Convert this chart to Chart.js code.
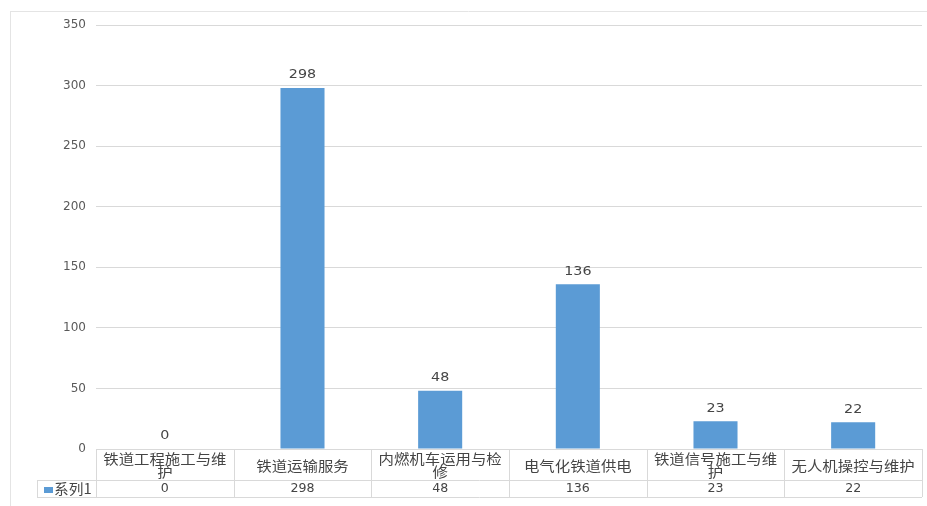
<!DOCTYPE html>
<html><head><meta charset="utf-8">
<script src="https://cdn.jsdelivr.net/npm/chart.js@4/dist/chart.umd.min.js"></script>
<style>html,body{margin:0;padding:0;background:#fff}#wrap{width:927px;height:506px;position:relative}</style>
</head><body><div id="wrap"><canvas id="c"></canvas></div>
<script>
const categories = ['铁道工程施工与维护','铁道运输服务','内燃机车运用与检修','电气化铁道供电','铁道信号施工与维护','无人机操控与维护'];
const headerLines = [['铁道工程施工与维','护'],['铁道运输服务'],['内燃机车运用与检','修'],['电气化铁道供电'],['铁道信号施工与维','护'],['无人机操控与维护']];
const seriesName = '系列1';
const values = [0, 298, 48, 136, 23, 22];
const yTicks = [0, 50, 100, 150, 200, 250, 300, 350];

const CJK = '"Noto Sans CJK SC", "Noto Sans", sans-serif';
const NUM = '"DejaVu Sans", sans-serif';
const TXT = '#454545';
const LINE = '#d9d9d9';
const BAR = '#5B9BD5';

function stretchText(ctx, s, x, y, sx) {
  ctx.save(); ctx.translate(x, y); ctx.scale(sx, 1); ctx.fillText(s, 0, 0); ctx.restore();
}

const tablePlugin = {
  id: 'tablePlugin',
  afterDraw(chart) {
    const ctx = chart.ctx, x = chart.scales.x, ca = chart.chartArea;
    const top = ca.bottom, mid = top + 31, bot = top + 48;
    const n = categories.length;
    const step = (ca.right - ca.left) / n;
    ctx.save();
    ctx.strokeStyle = '#e4e4e4'; ctx.lineWidth = 1;
    ctx.beginPath(); ctx.moveTo(10.5, 11); ctx.lineTo(10.5, 506); ctx.moveTo(10, 11.5); ctx.lineTo(927, 11.5); ctx.stroke();
    ctx.strokeStyle = LINE;
    ctx.beginPath();
    ctx.moveTo(ca.left, top + 0.5); ctx.lineTo(ca.right, top + 0.5);
    ctx.moveTo(37, mid + 0.5); ctx.lineTo(ca.right, mid + 0.5);
    ctx.moveTo(37, bot + 0.5); ctx.lineTo(ca.right, bot + 0.5);
    ctx.moveTo(37.5, mid); ctx.lineTo(37.5, bot);
    for (let i = 0; i <= n; i++) {
      const px = Math.round(ca.left + i * step) + 0.5;
      ctx.moveTo(px, top); ctx.lineTo(px, bot);
    }
    ctx.stroke();
    ctx.fillStyle = TXT; ctx.textAlign = 'center'; ctx.textBaseline = 'middle';
    categories.forEach((c, i) => {
      const cx = x.getPixelForValue(i);
      const lines = headerLines[i];
      ctx.font = '14px ' + CJK;
      if (lines.length === 1) stretchText(ctx, lines[0], cx, top + 17, 1.1);
      else { stretchText(ctx, lines[0], cx, top + 10, 1.1); stretchText(ctx, lines[1], cx, top + 23, 1.1); }
      ctx.font = '12px ' + NUM;
      stretchText(ctx, String(values[i]), cx, mid + 9, 1.05);
    });
    ctx.fillStyle = BAR; ctx.fillRect(44, mid + 7, 9, 6);
    ctx.fillStyle = TXT; ctx.textAlign = 'left'; ctx.font = '14px ' + CJK;
    stretchText(ctx, seriesName, 54, mid + 9, 1.05);
    ctx.textAlign = 'center'; ctx.font = '13px ' + NUM;
    const meta = chart.getDatasetMeta(0);
    meta.data.forEach((el, i) => { stretchText(ctx, String(values[i]), el.x, el.y - 13, 1.1); });
    ctx.restore();
  }
};

new Chart(document.getElementById('c'), {
  type: 'bar',
  data: { labels: categories, datasets: [{ label: seriesName, data: values, backgroundColor: BAR, barPercentage: 0.32, categoryPercentage: 1 }] },
  options: {
    responsive: true, maintainAspectRatio: false, animation: false,
    layout: { padding: { top: 25, right: 5, bottom: 57, left: 0 } },
    plugins: { legend: { display: false }, tooltip: { enabled: false } },
    scales: {
      x: { ticks: { display: false }, grid: { display: false, drawTicks: false }, border: { display: false } },
      y: {
        min: 0, max: 350, afterBuildTicks: s => { s.ticks = yTicks.map(v => ({ value: v })); },
        afterFit: s => { s.width = 96; },
        ticks: { color: '#595959', font: { family: NUM, size: 12 }, padding: 10 },
        grid: { color: LINE, drawTicks: false }, border: { display: false }
      }
    }
  },
  plugins: [tablePlugin]
});
</script></body></html>
